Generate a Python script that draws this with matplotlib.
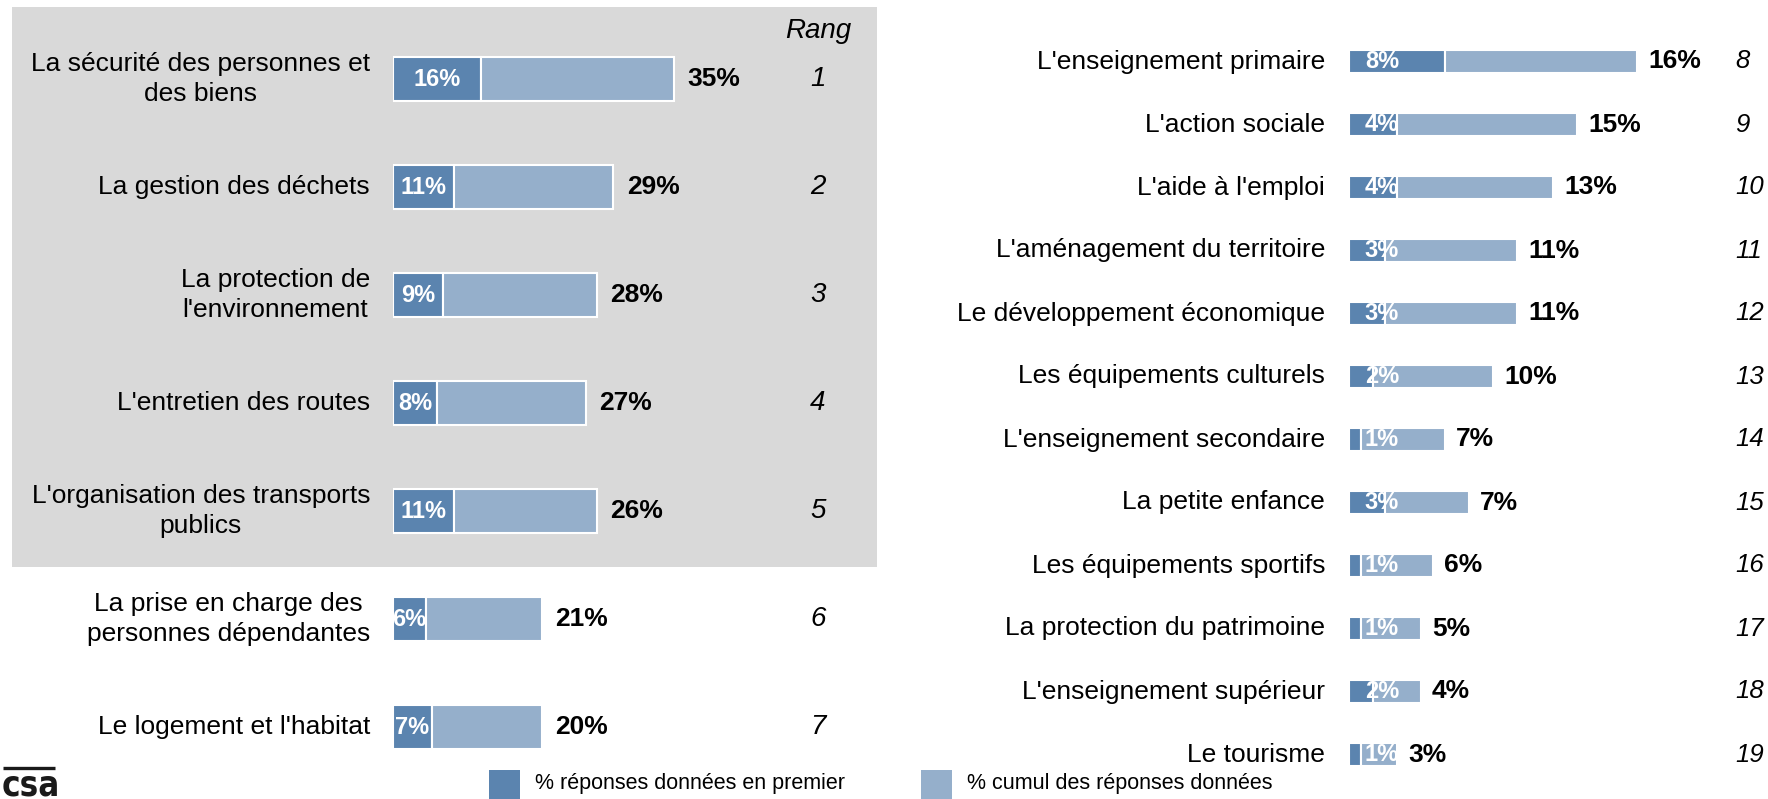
import matplotlib
matplotlib.use('Agg')
import matplotlib.pyplot as plt
from matplotlib.patches import Rectangle
from matplotlib.lines import Line2D
import matplotlib.transforms as mtransforms

# ---------------- data ----------------
left_labels = ["La sécurité des personnes et\ndes biens",
               "La gestion des déchets",
               "La protection de\nl'environnement",
               "L'entretien des routes",
               "L'organisation des transports\npublics",
               "La prise en charge des\npersonnes dépendantes",
               "Le logement et l'habitat"]
left_first = [16, 11, 9, 8, 11, 6, 7]
left_cumul = [35, 29, 28, 27, 26, 21, 20]
left_ranks = [1, 2, 3, 4, 5, 6, 7]

right_labels = ["L'enseignement primaire", "L'action sociale", "L'aide à l'emploi",
                "L'aménagement du territoire", "Le développement économique",
                "Les équipements culturels", "L'enseignement secondaire",
                "La petite enfance", "Les équipements sportifs",
                "La protection du patrimoine", "L'enseignement supérieur", "Le tourisme"]
right_first = [8, 4, 4, 3, 3, 2, 1, 3, 1, 1, 2, 1]
right_cumul = [16, 15, 13, 11, 11, 10, 7, 7, 6, 5, 4, 3]
right_ranks = [8, 9, 10, 11, 12, 13, 14, 15, 16, 17, 18, 19]

legend_labels = ["% réponses données en premier", "% cumul des réponses données"]
rank_title = "Rang"

# ---------------- style ----------------
W, H = 1768, 799
DARK = '#5B84AF'
LIGHT = '#95AFCB'
BG = '#D9D9D9'
plt.rcParams['font.family'] = ['Liberation Sans', 'DejaVu Sans']

fig = plt.figure(figsize=(W / 100, H / 100), dpi=100)


def fx(x):
    return x / W


def fy(y):
    return 1 - y / H


def pt(px):
    return px * 0.72


# gray highlight background
fig.add_artist(Rectangle((fx(12), fy(567)), fx(877) - fx(12), fy(7) - fy(567),
                         transform=fig.transFigure, facecolor=BG, edgecolor='none', zorder=-5))


def panel(ax_box, xmax, labels, first, cumul, ranks, bar_h, lab_size, tot_size,
          rank_size, rank_x, rank_ha, lab_pad, tot_pad, inner_fixed=None):
    x0, y0, x1, y1 = ax_box
    ax = fig.add_axes([fx(x0), fy(y1), fx(x1) - fx(x0), fy(y0) - fy(y1)])
    ax.set_facecolor('none')
    n = len(labels)
    ys = list(range(n))
    ax.set_xlim(0, xmax)
    ax.set_ylim(n - 0.5, -0.5)
    ax.axis('off')
    ax.barh(ys, first, height=bar_h, color=DARK, edgecolor='white', linewidth=1.5)
    ax.barh(ys, cumul, left=first, height=bar_h, color=LIGHT, edgecolor='white', linewidth=1.5)
    for i in ys:
        ax.annotate(labels[i], xy=(0, i), xytext=(-pt(lab_pad), 0), textcoords='offset points',
                    ha='right', va='center', multialignment='center', fontsize=lab_size,
                    linespacing=1.32, color='black')
        xin = first[i] / 2 if inner_fixed is None else inner_fixed
        ax.text(xin, i, f"{first[i]}%", ha='center', va='center', fontsize=17,
                fontweight='bold', color='white')
        ax.annotate(f"{cumul[i]}%", xy=(first[i] + cumul[i], i), xytext=(pt(tot_pad), 0),
                    textcoords='offset points', ha='left', va='center',
                    fontsize=tot_size, fontweight='bold', color='black')
    tr = mtransforms.blended_transform_factory(fig.transFigure, ax.transData)
    for i in ys:
        fig.text(fx(rank_x), i, str(ranks[i]), transform=tr, ha=rank_ha, va='center',
                 fontsize=rank_size, style='italic', color='black')
    return ax


# left panel: 0 at x=393 px, 5.5 px per %, rows every 108 px from y=79
panel((393, 79 - 54, 393 + 5.5 * 80, 79 + 108 * 6.5), 80, left_labels, left_first,
      left_cumul, left_ranks, 0.40, 19, 19, 20, 818, 'center', 23, 14)
# right panel: 0 at x=1349 px, 12 px per %, rows every 63 px from y=61.5
panel((1349, 61.5 - 31.5, 1349 + 12 * 30, 61.5 + 63 * 11.5), 30, right_labels, right_first,
      right_cumul, right_ranks, 0.365, 19, 19, 18.5, 1735, 'left', 24, 11, inner_fixed=2.75)

fig.text(fx(818), fy(31), rank_title, ha='center', va='center', fontsize=20,
         style='italic', color='black')

# legend
fig.add_artist(Rectangle((fx(489), fy(799)), fx(520) - fx(489), fy(770) - fy(799),
                         transform=fig.transFigure, facecolor=DARK, edgecolor='none'))
fig.text(fx(535), fy(784), legend_labels[0], ha='left', va='center', fontsize=15.5)
fig.add_artist(Rectangle((fx(921), fy(799)), fx(952) - fx(921), fy(770) - fy(799),
                         transform=fig.transFigure, facecolor=LIGHT, edgecolor='none'))
fig.text(fx(967), fy(784), legend_labels[1], ha='left', va='center', fontsize=15.5)

# csa logo
fig.add_artist(Line2D([fx(3), fx(55)], [fy(767.5), fy(767.5)], transform=fig.transFigure,
                      color='#1a1a1a', linewidth=2.4, solid_capstyle='butt'))
fig.text(fx(2), fy(795), "csa", ha='left', va='baseline', fontsize=25,
         fontweight='bold', fontstretch='condensed', family='DejaVu Sans', color='#1a1a1a')

fig.savefig('out.png', dpi=100)
